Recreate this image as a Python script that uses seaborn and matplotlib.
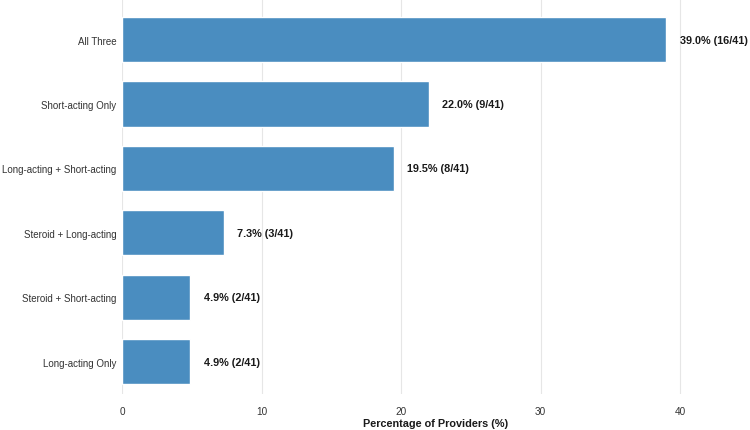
import matplotlib.pyplot as plt
import seaborn as sns
import pandas as pd

categories = ["All Three", "Short-acting Only", "Long-acting + Short-acting",
              "Steroid + Long-acting", "Steroid + Short-acting", "Long-acting Only"]
counts = [16, 9, 8, 3, 2, 2]
total = 41
pct = [round(c / total * 100, 1) for c in counts]

df = pd.DataFrame({"category": categories, "pct": pct, "count": counts})

sns.set_theme(style="whitegrid")
plt.rcParams['font.family'] = ['Liberation Sans', 'DejaVu Sans']

fig = plt.figure(figsize=(7.5, 4.31), dpi=100)
ax = fig.add_axes([122 / 750, 36 / 431, 1 - 122 / 750, 1 - 36 / 431])

sns.barplot(data=df, x="pct", y="category", color="#4a8dc0", saturation=1,
            width=0.7, ax=ax)

for i, (p, c) in enumerate(zip(pct, counts)):
    ax.text(p + 0.95, i, f"{p:.1f}% ({c}/{total})", va="center", ha="left",
            fontsize=7.8, fontweight="bold", color="#1a1a1a")

ax.set_xlim(0, 45)
ax.set_ylim(5.5, -0.63)
ax.set_xticks([0, 10, 20, 30, 40])
ax.set_ylabel("")
ax.set_xlabel("Percentage of Providers (%)", fontsize=7.8, fontweight="bold", color="#1a1a1a")
ax.xaxis.set_label_coords(0.5, -0.062)
ax.grid(axis="y", visible=False)
ax.grid(axis="x", color="#e6e6e6", linewidth=0.8)
ax.tick_params(axis="both", length=0, colors="#333333")
ax.tick_params(axis="y", pad=4, labelsize=7)
ax.tick_params(axis="x", pad=9, labelsize=7.2)
for s in ax.spines.values():
    s.set_visible(False)

plt.savefig("out.png", dpi=100)
